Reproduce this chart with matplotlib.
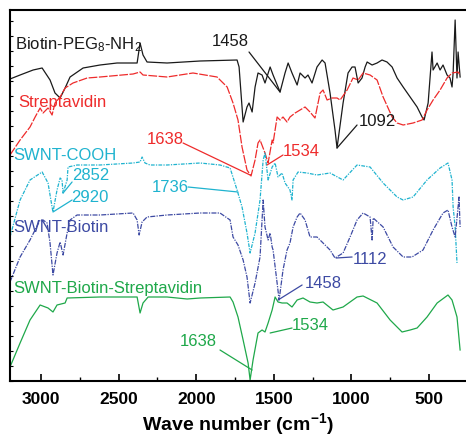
import matplotlib
matplotlib.use("Agg")
import matplotlib.pyplot as plt
from matplotlib.ticker import MultipleLocator, NullLocator, FixedLocator

plt.rcParams['font.family'] = ['Liberation Sans', 'DejaVu Sans']
plt.rcParams['mathtext.default'] = 'regular'

# ---- data (wavenumber cm^-1, offset transmittance a.u.) ----
biotin_wn = [3200,3135,3051,2993,2942,2910,2877,2845,2813,2729,
             2620,2510,2381,2362,2343,2317,2188,1975,1737,1724,
             1698,1673,1660,1640,1621,1602,1576,1557,1524,1505,
             1460,1428,1408,1383,1350,1331,1299,1280,1254,1222,
             1189,1170,1138,1106,1093,1054,1022,996,977,957,
             932,912,899,867,835,803,771,738,706,667,
             622,577,545,532,506,481,474,448,429,410,
             384,365,352,345,332,320,313,300]
biotin_y = [302,306,311,313,301,288,283,293,304,313,
            316,318,318,338,326,319,318,320,321,314,
            259,274,278,269,294,308,306,298,314,306,
            289,308,318,308,296,308,303,306,298,314,
            321,318,288,251,233,278,308,314,314,298,
            303,314,319,316,318,321,319,314,303,294,
            284,274,264,261,278,329,311,318,311,316,
            306,303,294,308,361,303,329,304]

strep_wn = [3200,3135,3071,3038,3006,2987,2955,2929,2910,2877,
            2845,2794,2703,2620,2407,2362,2343,2188,2021,1866,
            1801,1763,1731,1705,1673,1647,1621,1602,1589,1557,
            1537,1511,1505,1479,1460,1441,1415,1396,1363,1331,
            1299,1267,1235,1202,1183,1157,1125,1093,1073,1028,
            990,957,925,880,835,796,764,738,706,667,
            603,545,513,474,429,384,352,313,300]
strep_y = [226,241,254,264,273,268,273,266,278,284,
           293,298,303,304,307,309,306,304,308,304,
           294,278,261,234,211,205,221,238,241,228,
           218,241,238,264,261,264,259,264,268,271,
           274,269,263,288,291,281,283,283,281,291,
           303,301,308,306,301,284,273,264,258,256,
           258,261,271,281,291,303,308,309,306]

cooh_wn = [3200,3135,3071,2993,2955,2929,2923,2897,2877,2865,
           2858,2832,2826,2768,2620,2407,2362,2349,2330,2298,
           2188,1975,1847,1782,1737,1705,1673,1653,1621,1589,
           1569,1557,1537,1511,1492,1473,1447,1428,1396,1383,
           1376,1344,1286,1222,1138,1054,964,880,796,706,
           667,603,513,429,378,352,345,332,320]
cooh_y = [144,181,201,209,198,174,169,191,203,201,
          188,201,214,216,216,218,219,224,218,216,
          216,218,216,213,191,174,148,128,148,181,
          221,228,201,214,218,204,208,198,191,181,
          201,209,208,206,208,201,216,214,198,184,
          181,184,201,213,218,201,174,154,118]

sb_wn = [3200,3135,3071,3006,2987,2961,2942,2923,2897,2877,
         2858,2832,2813,2768,2620,2407,2381,2368,2349,2317,
         2188,1975,1847,1782,1763,1731,1698,1673,1653,1621,
         1589,1569,1557,1537,1524,1511,1505,1479,1466,1441,
         1415,1396,1376,1350,1331,1299,1267,1222,1183,1138,
         1106,1054,1009,964,925,880,867,860,796,732,
         667,610,539,474,410,378,352,332,313,307,300]
sb_y = [99,124,141,161,161,158,138,106,128,139,
        126,148,161,166,166,168,161,146,159,164,
        166,168,168,161,144,136,121,104,78,98,
        124,181,154,141,148,134,131,98,81,111,
        131,138,154,164,168,161,144,144,138,131,
        123,128,144,161,168,164,141,163,154,134,
        124,124,131,151,168,171,154,144,174,184,154]

sbs_wn = [3200,3135,3071,3006,2955,2923,2897,2845,2832,2620,
          2381,2362,2343,2310,2188,2059,1975,1782,1763,1731,
          1698,1666,1653,1634,1602,1576,1557,1537,1511,1492,
          1473,1447,1415,1383,1350,1312,1267,1222,1183,1119,
          1054,964,925,835,751,674,622,577,513,448,
          378,352,320,300]
sbs_y = [14,38,61,76,73,69,76,78,83,84,
         84,68,78,84,84,82,83,84,79,64,
         41,18,1,21,48,51,49,58,71,84,
         79,78,78,74,81,83,79,78,79,71,
         74,84,85,78,61,49,51,53,64,78,
         86,81,64,31]

series_names = ['Biotin-PEG$_8$-NH$_2$', 'Streptavidin', 'SWNT-COOH',
                'SWNT-Biotin', 'SWNT-Biotin-Streptavidin']
x_ticks = [3000, 2500, 2000, 1500, 1000, 500]

C_BLACK = '#1a1a1a'
C_RED = '#ee2b2b'
C_CYAN = '#1fb3cf'
C_BLUE = '#3d4aa3'
C_GREEN = '#1fa84a'

fig = plt.figure(figsize=(4.66, 4.41), dpi=100)
ax = fig.add_axes([10/466, 60/441, 456/466, 371/441])

ax.plot(biotin_wn, biotin_y, color=C_BLACK, lw=0.9, ls='-')
ax.plot(strep_wn, strep_y, color=C_RED, lw=0.9, ls=(0, (7, 1.2)))
ax.plot(cooh_wn, cooh_y, color=C_CYAN, lw=0.9, ls=(0, (3, 1, 1, 1)))
ax.plot(sb_wn, sb_y, color=C_BLUE, lw=0.9, ls=(0, (4, 1, 1, 1)))
ax.plot(sbs_wn, sbs_y, color=C_GREEN, lw=0.9, ls='-')

ax.set_xlim(3200, 262)
ax.set_ylim(0, 371)

# series labels
fs = 12
ax.text(3167, 336, series_names[0], color=C_BLACK, fontsize=fs, ha='left', va='center')
ax.text(3148, 279, series_names[1], color=C_RED, fontsize=fs, ha='left', va='center')
ax.text(3180, 225, series_names[2], color=C_CYAN, fontsize=fs, ha='left', va='center')
ax.text(3180, 153, series_names[3], color=C_BLUE, fontsize=fs, ha='left', va='center')
ax.text(3180, 93, series_names[4], color=C_GREEN, fontsize=fs, ha='left', va='center')

def peak(label, txy, start, end, color):
    ax.text(txy[0], txy[1], label, color=color, fontsize=fs, ha='center', va='center')
    ax.annotate('', xy=end, xytext=start,
                arrowprops=dict(arrowstyle='-', color=color, lw=0.9,
                                shrinkA=0, shrinkB=0))

peak('1458', (1782, 339), (1660, 329), (1460, 289), C_BLACK)
peak('1092', (835, 259), (964, 256), (1093, 233), C_BLACK)
peak('1638', (2201, 241), (2085, 238), (1653, 206), C_RED)
peak('1534', (1325, 230), (1441, 226), (1544, 216), C_RED)
peak('2852', (2678, 205), (2800, 199), (2858, 188), C_CYAN)
peak('2920', (2684, 183), (2800, 181), (2923, 169), C_CYAN)
peak('1736', (2169, 193), (2053, 194), (1731, 189), C_CYAN)
peak('1112', (880, 122), (996, 124), (1099, 123), C_BLUE)
peak('1458', (1183, 97), (1318, 96), (1473, 81), C_BLUE)
peak('1638', (1988, 39), (1847, 31), (1640, 11), C_GREEN)
peak('1534', (1267, 55), (1383, 53), (1524, 48), C_GREEN)

# axes styling
for s in ['top', 'bottom', 'left']:
    ax.spines[s].set_linewidth(1.5)
ax.spines['right'].set_visible(False)

ax.xaxis.set_major_locator(FixedLocator(x_ticks))
ax.xaxis.set_minor_locator(MultipleLocator(250))
ax.yaxis.set_major_locator(NullLocator())
ax.yaxis.set_minor_locator(MultipleLocator(15))
ax.tick_params(axis='x', which='major', direction='in', length=5, width=1.2,
               labelsize=12.5, pad=8, top=False)
ax.tick_params(axis='x', which='minor', direction='in', length=3, width=1.0, top=False)
ax.tick_params(axis='y', which='minor', direction='in', length=2.5, width=0.8, right=False)
for lab in ax.get_xticklabels():
    lab.set_fontweight('bold')

ax.set_xlabel('Wave number (cm$^{-1}$)', fontsize=14, fontweight='bold', labelpad=3)

fig.savefig('out.png', dpi=100)
